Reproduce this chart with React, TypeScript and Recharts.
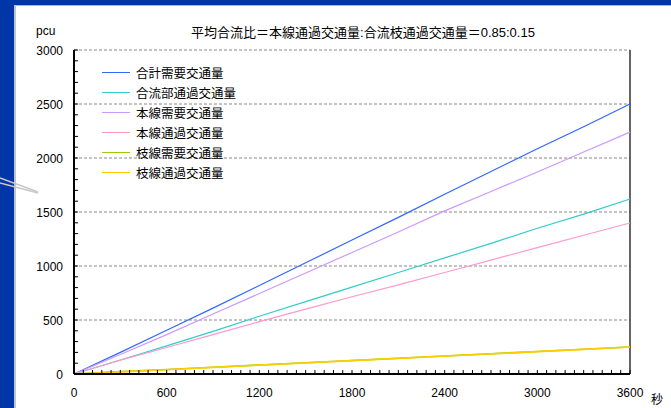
import React from "react";
import { LineChart, Line, XAxis, YAxis, CartesianGrid, ReferenceLine } from "recharts";

// time (s)
const seconds = [0, 300, 600, 900, 1200, 1500, 1800, 2100, 2400, 2700, 3000, 3300, 3600];

// cumulative volumes (pcu)
const totalDemand = [0, 200, 405, 610, 820, 1030, 1240, 1450, 1665, 1875, 2085, 2290, 2500];
const mergePassing = [0, 130, 260, 395, 535, 670, 805, 940, 1075, 1210, 1350, 1480, 1620];
const mainDemand = [0, 180, 365, 555, 745, 935, 1125, 1315, 1510, 1690, 1870, 2055, 2240];
const mainPassing = [0, 128, 245, 365, 485, 600, 715, 825, 940, 1055, 1170, 1285, 1398];
const branchDemand = [0, 22, 42, 63, 84, 104, 125, 146, 167, 188, 208, 229, 250];
const branchPassing = [0, 20, 40, 61, 82, 103, 124, 145, 166, 186, 207, 228, 250];

const xLabels = [0, 600, 1200, 1800, 2400, 3000, 3600];
const yLabels = [0, 500, 1000, 1500, 2000, 2500, 3000];
const xMinorTicks = Array.from({ length: 61 }, (_, i) => i * 60);
const yMinorTicks = Array.from({ length: 31 }, (_, i) => i * 100);

const series = [
  { key: "totalDemand", name: "合計需要交通量", color: "#3366ff", width: 1.2 },
  { key: "mergePassing", name: "合流部通過交通量", color: "#33cccc", width: 1.2 },
  { key: "mainDemand", name: "本線需要交通量", color: "#cc99ff", width: 1.2 },
  { key: "mainPassing", name: "本線通過交通量", color: "#ff99cc", width: 1.2 },
  { key: "branchDemand", name: "枝線需要交通量", color: "#99cc00", width: 1.6 },
  { key: "branchPassing", name: "枝線通過交通量", color: "#ffcc00", width: 1.6 },
];

const data = seconds.map((t, i) => ({
  t,
  totalDemand: totalDemand[i],
  mergePassing: mergePassing[i],
  mainDemand: mainDemand[i],
  mainPassing: mainPassing[i],
  branchDemand: branchDemand[i],
  branchPassing: branchPassing[i],
}));

const font = "'Liberation Sans', 'Noto Sans CJK JP', sans-serif";

// tick mark pointing up into the plot, label only on the 600s
const XTick = (props: any) => {
  const { x, y, payload } = props;
  const v = payload.value;
  return (
    <g>
      <line x1={x} y1={y} x2={x} y2={y - 4} stroke="#000" strokeWidth={1} />
      {xLabels.includes(v) && (
        <text x={x} y={y + 23} textAnchor="middle" fontSize={12} fontFamily={font} fill="#000">
          {v}
        </text>
      )}
    </g>
  );
};

const YTick = (props: any) => {
  const { x, y, payload } = props;
  const v = payload.value;
  return (
    <g>
      <line x1={x} y1={y} x2={x + 4} y2={y} stroke="#000" strokeWidth={1} />
      {yLabels.includes(v) && (
        <text x={x - 11} y={y + 4.5} textAnchor="end" fontSize={12} fontFamily={font} fill="#000">
          {v}
        </text>
      )}
    </g>
  );
};

export default function App() {
  return (
    <div
      style={{
        position: "absolute",
        left: 0,
        top: 0,
        width: 671,
        height: 408,
        background: "#fff",
        overflow: "hidden",
        fontFamily: font,
        color: "#000",
      }}
    >
      {/* slide frame */}
      <div style={{ position: "absolute", left: 0, top: 0, width: 671, height: 5, background: "#0036a8" }} />
      <div style={{ position: "absolute", left: 0, top: 5, width: 671, height: 1, background: "#b8b8b8" }} />
      <div style={{ position: "absolute", left: 0, top: 0, width: 14, height: 408, background: "#0036a8" }} />
      <div style={{ position: "absolute", left: 14, top: 5, width: 2, height: 403, background: "#c4c4c4" }} />
      <svg style={{ position: "absolute", left: 0, top: 0 }} width={60} height={220}>
        <line x1={0} y1={178} x2={38} y2={192} stroke="#c8c8c8" strokeWidth={1.5} />
        <line x1={0} y1={183} x2={38} y2={193} stroke="#c8c8c8" strokeWidth={1.5} />
      </svg>

      <div
        style={{
          position: "absolute",
          left: 0,
          width: 726,
          top: 22,
          textAlign: "center",
          fontSize: 13,
          whiteSpace: "nowrap",
        }}
      >
        平均合流比＝本線通過交通量:合流枝通過交通量＝0.85:0.15
      </div>
      <div style={{ position: "absolute", left: 36, top: 24, fontSize: 12 }}>pcu</div>
      <div style={{ position: "absolute", left: 651, top: 390, fontSize: 12 }}>秒</div>

      <LineChart
        width={671}
        height={408}
        data={data}
        margin={{ top: 50, right: 41, bottom: 0, left: 0 }}
        style={{ position: "absolute", left: 0, top: 0 }}
      >
        <CartesianGrid vertical={false} stroke="#888" strokeDasharray="3 2" horizontalValues={yLabels} />
        <XAxis
          dataKey="t"
          type="number"
          height={34}
          domain={[0, 3600]}
          ticks={xMinorTicks}
          tickSize={0}
          tickMargin={0}
          tickLine={false}
          axisLine={{ stroke: "#000", strokeWidth: 2 }}
          tick={<XTick />}
          interval={0}
        />
        <YAxis
          width={74}
          type="number"
          domain={[0, 3000]}
          ticks={yMinorTicks}
          tickSize={0}
          tickMargin={0}
          tickLine={false}
          axisLine={{ stroke: "#000", strokeWidth: 2 }}
          tick={<YTick />}
          interval={0}
        />
        <ReferenceLine x={3600} stroke="#333" strokeWidth={1.5} />
        {series.map((s) => (
          <Line
            key={s.key}
            type="linear"
            dataKey={s.key}
            name={s.name}
            stroke={s.color}
            strokeWidth={s.width}
            dot={false}
            isAnimationActive={false}
          />
        ))}
      </LineChart>

      <div style={{ position: "absolute", left: 102, top: 62, fontSize: 12.5 }}>
        {series.map((s) => (
          <div key={s.key} style={{ display: "flex", alignItems: "center", height: 20 }}>
            <span style={{ display: "inline-block", width: 28, borderTop: `1.5px solid ${s.color}`, marginRight: 6 }} />
            <span>{s.name}</span>
          </div>
        ))}
      </div>
    </div>
  );
}
